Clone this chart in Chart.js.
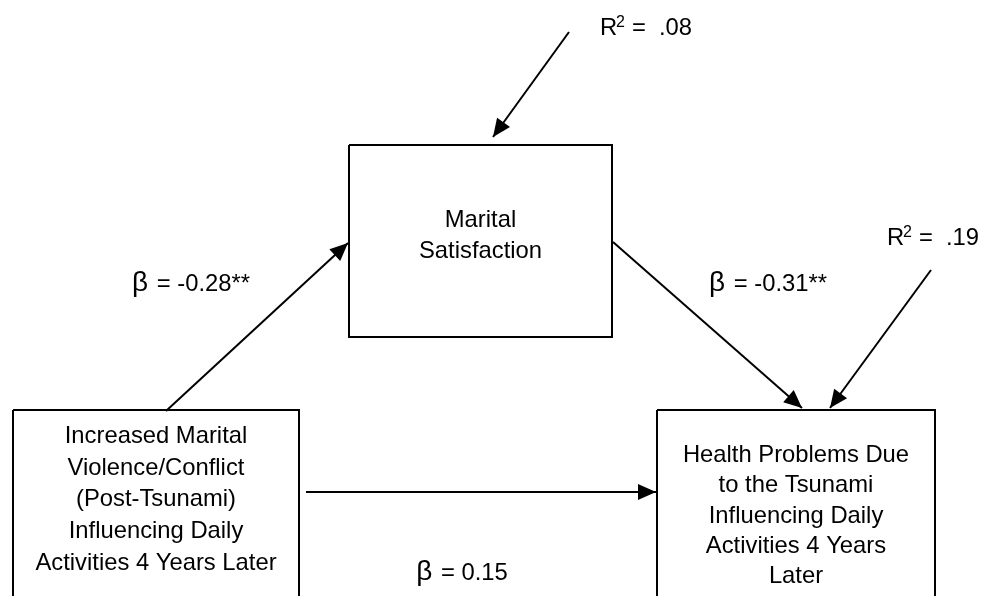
<!DOCTYPE html>
<html>
<head>
<meta charset="utf-8">
<script src="https://cdn.jsdelivr.net/npm/chart.js@4"></script>
<style>
  html, body { margin: 0; padding: 0; background: #fff; }
  #contenedor { width: 983px; height: 596px; }
</style>
</head>
<body>
<div id="contenedor"><canvas id="miGrafica" width="983" height="596"></canvas></div>
<script>
'use strict'

// DATOS DEL MODELO DE RUTAS
const variables = ['Marital Violence/Conflict', 'Marital Satisfaction', 'Health Problems'];
const lineasVariables = [
  ['Increased Marital', 'Violence/Conflict', '(Post-Tsunami)', 'Influencing Daily', 'Activities 4 Years Later'],
  ['Marital', 'Satisfaction'],
  ['Health Problems Due', 'to the Tsunami', 'Influencing Daily', 'Activities 4 Years', 'Later']
];
const betas = ['-0.28**', '-0.31**', '0.15'];
const r2 = ['.08', '.19'];

// DISPOSICION (en unidades de las escalas ocultas 0..983 y 0..596)
const cajas = [
  { x0: 13, x1: 299, y0: 410, y1: 600, base: 443, paso: 31.7 },
  { x0: 349, x1: 612, y0: 145, y1: 337, base: 227, paso: 31 },
  { x0: 657, x1: 935, y0: 410, y1: 600, base: 462, paso: 30.3 }
];
const flechas = [
  { desde: [166, 411], hasta: [348, 243] },
  { desde: [613, 242], hasta: [802, 408] },
  { desde: [306, 492], hasta: [656, 492] },
  { desde: [569, 32], hasta: [493, 137] },
  { desde: [931, 270], hasta: [830, 408] }
];
const posBetas = [[191, 291], [768, 291], [462, 580]];
const posR2 = [[600, 35], [887, 245]];

const fuente = '"Liberation Sans", Arial, sans-serif';

// CAJAS Y FLECHAS COMO DATASETS DE LINEA
function crearDatasets() {
  const ds = cajas.map((c, i) => ({
    label: variables[i],
    data: [
      { x: c.x0, y: c.y0 }, { x: c.x1, y: c.y0 }, { x: c.x1, y: c.y1 },
      { x: c.x0, y: c.y1 }, { x: c.x0, y: c.y0 }
    ],
    showLine: true,
    borderColor: '#000',
    borderWidth: 2,
    pointRadius: 0,
    tension: 0,
    fill: false
  }));
  flechas.forEach((f, i) => {
    ds.push({
      label: 'flecha' + i,
      esFlecha: true,
      data: [{ x: f.desde[0], y: f.desde[1] }, { x: f.hasta[0], y: f.hasta[1] }],
      showLine: true,
      borderColor: '#000',
      borderWidth: 2,
      pointRadius: 0,
      fill: false
    });
  });
  return ds;
}

// PUNTAS DE FLECHA Y TEXTOS
const pluginDiagrama = {
  id: 'diagrama',
  afterDatasetsDraw(chart) {
    const ctx = chart.ctx;
    const sx = chart.scales.x, sy = chart.scales.y;
    const px = v => sx.getPixelForValue(v);
    const py = v => sy.getPixelForValue(v);

    ctx.save();
    chart.data.datasets.forEach((d, i) => {
      if (!d.esFlecha) return;
      const pts = chart.getDatasetMeta(i).data;
      const a = pts[0], b = pts[1];
      const ang = Math.atan2(b.y - a.y, b.x - a.x);
      const largo = 18, ancho = 8;
      ctx.beginPath();
      ctx.moveTo(b.x, b.y);
      ctx.lineTo(b.x - largo * Math.cos(ang) + ancho * Math.sin(ang), b.y - largo * Math.sin(ang) - ancho * Math.cos(ang));
      ctx.lineTo(b.x - largo * Math.cos(ang) - ancho * Math.sin(ang), b.y - largo * Math.sin(ang) + ancho * Math.cos(ang));
      ctx.closePath();
      ctx.fillStyle = '#000';
      ctx.fill();
    });

    ctx.fillStyle = '#000';
    ctx.textBaseline = 'alphabetic';
    ctx.font = '23.8px ' + fuente;
    ctx.textAlign = 'center';
    cajas.forEach((c, i) => {
      const cx = (c.x0 + c.x1) / 2;
      lineasVariables[i].forEach((t, j) => {
        ctx.fillText(t, px(cx), py(c.base + j * c.paso));
      });
    });

    // coeficientes beta: la letra un poco mas grande, como en el original
    ctx.textAlign = 'left';
    betas.forEach((b, i) => {
      const resto = ' = ' + b;
      ctx.font = '28px ' + fuente;
      const wBeta = ctx.measureText('\u03B2').width;
      ctx.font = '23.8px ' + fuente;
      const wResto = ctx.measureText(resto).width;
      const x0 = px(posBetas[i][0]) - (wBeta + 2 + wResto) / 2;
      const y = py(posBetas[i][1]);
      ctx.font = '28px ' + fuente;
      ctx.fillText('\u03B2', x0, y);
      ctx.font = '23.8px ' + fuente;
      ctx.fillText(resto, x0 + wBeta + 2, y);
    });

    r2.forEach((v, i) => {
      const [x, y] = posR2[i];
      ctx.textAlign = 'left';
      ctx.font = '23.8px ' + fuente;
      ctx.fillText('R', px(x), py(y));
      ctx.fillText('=', px(x + 32), py(y));
      ctx.textAlign = 'right';
      ctx.fillText(v, px(x + 92), py(y));
      ctx.textAlign = 'left';
      ctx.font = '16px ' + fuente;
      ctx.fillText('2', px(x + 16), py(y - 8));
    });
    ctx.restore();
  }
};

function crearGrafica() {
  const ctx = document.getElementById('miGrafica').getContext('2d');
  new Chart(ctx, {
    type: 'scatter',
    data: { datasets: crearDatasets() },
    options: {
      responsive: false,
      animation: false,
      events: [],
      layout: { padding: 0 },
      scales: {
        x: { type: 'linear', min: 0, max: 983, display: false },
        y: { type: 'linear', min: 0, max: 596, reverse: true, display: false }
      },
      plugins: {
        legend: { display: false },
        tooltip: { enabled: false }
      }
    },
    plugins: [pluginDiagrama]
  });
}

crearGrafica();
</script>
</body>
</html>
